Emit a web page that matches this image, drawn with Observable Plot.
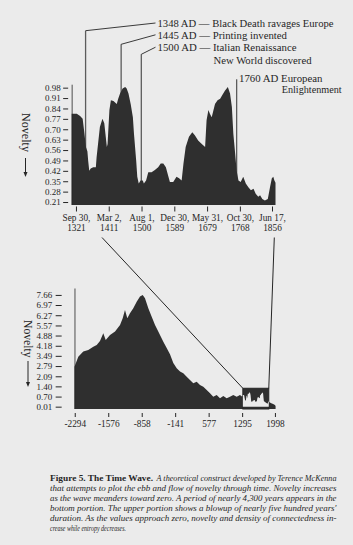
<!DOCTYPE html>
<html><head><meta charset="utf-8">
<script src="https://cdn.jsdelivr.net/npm/d3@7"></script>
<script src="https://cdn.jsdelivr.net/npm/@observablehq/plot@0.6"></script>
<style>
html,body{margin:0;padding:0;background:#ebebeb;}
#page{position:relative;width:353px;height:545px;overflow:hidden;background:#ebebeb;}
#page > svg{position:absolute;left:0;margin:0;}
</style></head>
<body><div id="page"></div>
<script>
// ---------- data ----------
const upperYears = [1310,1324,1333,1340,1344,1349,1353,1355,1358,1362,1369,1376,1378,1383,1387,1394,1399,1403,1406,1408,1413,1417,1424,1433,1437,1442,1449,1456,1460,1465,1471,1477,1480,1486,1489,1493,1498,1504,1507,1513,1519,1528,1537,1546,1553,1560,1567,1574,1578,1587,1596,1603,1610,1615,1621,1630,1639,1646,1655,1665,1674,1678,1683,1687,1692,1701,1708,1715,1721,1728,1736,1742,1747,1751,1756,1760,1765,1771,1778,1785,1792,1799,1806,1812,1819,1824,1830,1837,1845,1851,1856,1860,1863,1866];
const upperNovelty = [0.805,0.805,0.79,0.77,0.69,0.58,0.55,0.49,0.42,0.435,0.445,0.445,0.51,0.625,0.715,0.77,0.74,0.65,0.58,0.60,0.83,0.895,0.89,0.87,0.905,0.94,0.975,0.985,0.975,0.94,0.87,0.78,0.67,0.49,0.38,0.335,0.355,0.355,0.335,0.355,0.41,0.41,0.425,0.445,0.47,0.47,0.445,0.38,0.345,0.345,0.38,0.37,0.355,0.47,0.58,0.65,0.68,0.66,0.625,0.60,0.58,0.76,0.83,0.805,0.78,0.87,0.895,0.905,0.93,0.96,0.985,0.94,0.85,0.67,0.535,0.42,0.355,0.345,0.38,0.335,0.31,0.29,0.30,0.265,0.245,0.255,0.23,0.22,0.23,0.31,0.37,0.38,0.355,0.34];

const lowerYears = [-2300,-2218,-2111,-2004,-1896,-1823,-1753,-1682,-1630,-1538,-1430,-1323,-1266,-1217,-1167,-1110,-1039,-966,-895,-837,-788,-717,-644,-573,-503,-395,-323,-252,-181,-108,-37,33,106,177,248,320,391,462,535,606,676,749,820,891,964,1034,1105,1178,1249,1292,1330,1360,1400,1455,1495,1560,1610,1640,1680,1740,1770,1840,1860,1880,1920,1960,1998,2012];
const lowerNovelty = [2.75,3.43,3.78,3.89,4.12,4.24,4.51,5.04,4.58,4.92,5.15,5.6,6.06,6.63,6.06,6.41,6.75,7.2,7.55,7.66,7.43,6.75,6.17,5.6,5.15,4.46,4.03,3.6,3.0,2.64,2.41,2.3,2.06,1.84,1.61,1.72,1.5,1.38,1.15,0.93,0.69,0.81,0.59,0.74,0.59,0.69,0.81,0.69,0.81,0.7,0.8,0.42,0.7,0.98,0.34,0.47,0.36,0.68,0.8,0.98,0.35,0.22,0.38,0.32,0.25,0.2,0.12,0.05];

const upperYTicks = [0.21,0.28,0.35,0.42,0.49,0.56,0.63,0.70,0.77,0.84,0.91,0.98];
const lowerYTicks = [0.01,0.70,1.40,2.09,2.79,3.49,4.18,4.88,5.57,6.27,6.97,7.66];
const upperXTicks = [1321.75,1411.17,1500.58,1589.99,1679.41,1768.83,1856.46];
const upperXTickLabels = ["Sep 30,\n1321","Mar 2,\n1411","Aug 1,\n1500","Dec 30,\n1589","May 31,\n1679","Oct 30,\n1768","Jun 17,\n1856"];
const lowerXTicks = [-2294,-1576,-858,-141,577,1295,1998];

const eventYears = [1348,1445,1500,1760];
const eventLabels = [["1348 AD — Black Death ravages Europe"],["1445 AD — Printing invented"],["1500 AD — Italian Renaissance","New World discovered"],["1760 AD European","Enlightenment"]];
const axisTitle = "Novelty";
const captionBold = "Figure 5. The Time Wave.";
const captionLines = [
  "A theoretical construct developed by Terence McKenna",
  "that attempts to plot the ebb and flow of novelty through time. Novelty increases",
  "as the wave meanders toward zero. A period of nearly 4,300 years appears in the",
  "bottom portion. The upper portion shows a blowup of nearly five hundred years'",
  "duration. As the values approach zero, novelty and density of connectedness in-",
  "crease while entropy decreases."
];

// ---------- style / layout ----------
const INK = "#262626", AREA = "#2f2f2f", PAPER = "#ebebeb", RULE = "#5c5c5c";
const FONT = '"Liberation Serif","DejaVu Serif",serif';
const U = {top:0, width:353, height:245, ml:71.65, mr:77.5, mt:84.7, mb:40, xDomain:[1310,1866], yDomain:[0.19,1.0]};
const L = {top:250, width:353, height:195, ml:74.47, mr:75.88, mt:38.5, mb:36, xDomain:[-2300,2045], yDomain:[-0.15,8.1]};
const boxTop = 1.27;

const page = document.getElementById("page");
const upperData = upperYears.map((t,i)=>({t, v:upperNovelty[i]}));
const lowerData = lowerYears.map((t,i)=>({t, v:lowerNovelty[i]}));
const upperLabel = new Map(upperXTicks.map((d,i)=>[d, upperXTickLabels[i]]));

const upper = Plot.plot({
  width:U.width, height:U.height, marginLeft:U.ml, marginRight:U.mr, marginTop:U.mt, marginBottom:U.mb,
  style:{background:"transparent", fontFamily:FONT, color:INK, overflow:"visible"},
  x:{domain:U.xDomain, label:null}, y:{domain:U.yDomain, label:null},
  marks:[
    Plot.areaY(upperData,{x:"t", y1:U.yDomain[0], y2:"v", fill:AREA}),
    Plot.ruleX([U.xDomain[0]],{stroke:INK, strokeWidth:0.8}),
    Plot.axisY({ticks:upperYTicks, tickFormat:d=>d.toFixed(2), tickSize:5, tickPadding:3, dx:-3.5, fontSize:9, label:null}),
    Plot.axisX({ticks:upperXTicks, tickFormat:d=>upperLabel.get(d), tickSize:5, tickPadding:2, dy:1.5, fontSize:9.3, lineHeight:1.1, label:null})
  ]
});

const lower = Plot.plot({
  width:L.width, height:L.height, marginLeft:L.ml, marginRight:L.mr, marginTop:L.mt, marginBottom:L.mb,
  style:{background:"transparent", fontFamily:FONT, color:INK, overflow:"visible"},
  x:{domain:L.xDomain, label:null}, y:{domain:L.yDomain, label:null},
  marks:[
    Plot.areaY(lowerData,{x:"t", y1:L.yDomain[0], y2:"v", fill:AREA}),
    Plot.rect([0],{x1:U.xDomain[0], x2:U.xDomain[1], y1:L.yDomain[0], y2:boxTop, fill:AREA, stroke:INK, strokeWidth:1}),
    Plot.areaY(upperData,{x:"t", y1:0, y2:"v", fill:PAPER}),
    Plot.ruleX([L.xDomain[0]],{stroke:INK, strokeWidth:0.8}),
    Plot.axisY({ticks:lowerYTicks, tickFormat:d=>d.toFixed(2), tickSize:6, tickPadding:4, dx:-12.8, fontSize:9, label:null}),
    Plot.axisX({ticks:lowerXTicks, tickFormat:d=>String(d), tickSize:4, tickPadding:3, dy:4, fontSize:9.3, label:null})
  ]
});

function scaleFn(fig, name){
  const s = fig.scale(name);
  if (s && typeof s.apply === "function") return v => s.apply(v);
  return d3.scaleLinear(s.domain, s.range);
}
const ux = scaleFn(upper,"x"), uy = v => U.top + scaleFn(upper,"y")(v);
const lx = scaleFn(lower,"x"), ly = v => L.top + scaleFn(lower,"y")(v);

// ---------- overlay (annotations, connectors, caption) ----------
const svg = d3.create("svg").attr("width",353).attr("height",545)
  .style("position","absolute").style("top","0px").style("left","0px")
  .style("font-family",FONT).attr("fill",INK);

const base = uy(U.yDomain[0]);
const tops = [30.7, 44.3, 54.3, 79.3];
const textX = [157.5, 157.5, 157.5, 239];
const baselines = [27, 38.8, 51.2, 81.5];
const lengths = [176, 129.5, 139, 83.5];
eventYears.forEach((yr,i)=>{
  const x = ux(yr);
  svg.append("line").attr("x1",x).attr("x2",x).attr("y1",base).attr("y2",tops[i])
    .attr("stroke",RULE).attr("stroke-width",1.3);
  if (i < 3) {
    svg.append("line").attr("x1",x).attr("y1",tops[i]).attr("x2",textX[i]-2).attr("y2",baselines[i]-4)
      .attr("stroke",INK).attr("stroke-width",0.9);
  }
  svg.append("text").attr("x",textX[i]).attr("y",baselines[i]).attr("font-size",10.5)
    .attr("textLength",lengths[i]).attr("lengthAdjust","spacingAndGlyphs").text(eventLabels[i][0]);
});
svg.append("text").attr("x",213.5).attr("y",63.5).attr("font-size",10.5)
  .attr("textLength",98).attr("lengthAdjust","spacingAndGlyphs").text(eventLabels[2][1]);
svg.append("text").attr("x",341.7).attr("y",92.5).attr("font-size",10.5).attr("text-anchor","end")
  .attr("textLength",60).attr("lengthAdjust","spacingAndGlyphs").text(eventLabels[3][1]);

// Novelty axis titles with downward arrows
function novelty(cx, y0, len, a0, a1){
  svg.append("text").attr("transform",`translate(${cx},${y0}) rotate(90)`)
    .attr("dominant-baseline","central").attr("font-size",12)
    .attr("textLength",len).attr("lengthAdjust","spacingAndGlyphs").text(axisTitle);
  svg.append("line").attr("x1",cx).attr("x2",cx).attr("y1",a0).attr("y2",a1-3)
    .attr("stroke",INK).attr("stroke-width",1);
  svg.append("path").attr("d",`M${cx-2},${a1-5}L${cx+2},${a1-5}L${cx},${a1}Z`).attr("fill",INK);
}
novelty(25.5, 113, 39, 158, 177);
novelty(28, 320, 37.5, 361, 387);

// connector lines from the blow-up to its window in the long view
function connector(p0, p1, yStart){
  const t = (yStart - p0[1])/(p1[1]-p0[1]);
  const xs = p0[0] + t*(p1[0]-p0[0]);
  svg.append("line").attr("x1",xs).attr("y1",yStart).attr("x2",p1[0]).attr("y2",p1[1])
    .attr("stroke",INK).attr("stroke-width",1);
}
connector([ux(U.xDomain[0]), base], [lx(U.xDomain[0]), ly(boxTop)], 237.5);
connector([ux(U.xDomain[1]), base], [lx(U.xDomain[1]), ly(boxTop)], 237.5);

// caption
const capBase = [480.8, 490.9, 501, 511.1, 521.2, 531.3];
svg.append("text").attr("x",50).attr("y",capBase[0]).attr("font-size",9.2).attr("font-weight","bold")
  .attr("textLength",103).attr("lengthAdjust","spacingAndGlyphs").text(captionBold);
captionLines.forEach((line,i)=>{
  const x0 = i === 0 ? 156.5 : 50;
  const len = i === 0 ? 180 : (i < 5 ? 286.5 : 76);
  svg.append("text").attr("x",x0).attr("y",capBase[i]).attr("font-size",8.8)
    .attr("font-style","italic")
    .attr("textLength",len).attr("lengthAdjust","spacingAndGlyphs").text(line);
});

page.appendChild(svg.node());
upper.style.top = U.top + "px"; upper.style.position = "absolute"; upper.style.left = "0px";
lower.style.top = L.top + "px"; lower.style.position = "absolute"; lower.style.left = "0px";
page.appendChild(upper);
page.appendChild(lower);
</script></body></html>
